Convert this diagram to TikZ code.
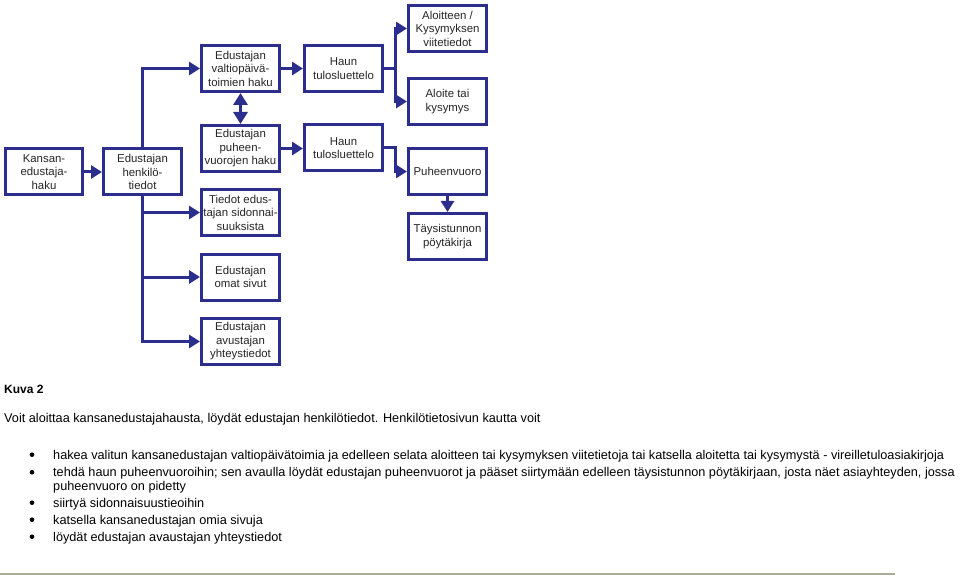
\documentclass[tikz,border=0pt]{standalone}
\usepackage{fontspec}
\setmainfont{Liberation Sans}
\usepackage{xcolor}
\usetikzlibrary{arrows.meta}

\definecolor{boxblue}{RGB}{43,46,140}
\definecolor{rulegray}{RGB}{170,172,155}

\tikzset{
  pagebox/.style={draw=boxblue,line width=3pt,fill=white,minimum width=78pt,minimum height=46pt,
    align=center,inner sep=1pt,text=black!85,font=\fontsize{11.4}{13.5}\selectfont},
  link/.style={draw=boxblue,line width=3pt,-{Triangle[length=11pt,width=13pt]}},
  bodytext/.style={anchor=base west,inner sep=0pt,font=\fontsize{12.7}{15}\selectfont}
}

\begin{document}
\begin{tikzpicture}[x=1pt,y=-1pt]
	\useasboundingbox (0,0) rectangle (960,577);

	% boxes
	\node[pagebox,minimum width=77pt] (kansan) at (44,172) {Kansan-\\edustaja-\\haku};
	\node[pagebox] (henk) at (142.5,172) {Edustajan\\henkilö-\\tiedot};
	\node[pagebox] (valtio) at (240.5,68.5) {Edustajan\\valtiopäivä-\\toimien haku};
	\node[pagebox] (puheen) at (240.5,148.5) {Edustajan\\puheen-\\vuorojen haku};
	\node[pagebox] (sidonn) at (240.5,212.5) {Tiedot edus-\\tajan sidonnai-\\suuksista};
	\node[pagebox] (omat) at (240.5,277) {Edustajan\\omat sivut};
	\node[pagebox] (avust) at (240.5,341.5) {Edustajan\\avustajan\\yhteystiedot};
	\node[pagebox] (haku1) at (343.5,68.5) {Haun\\tulosluettelo};
	\node[pagebox] (haku2) at (343.5,148) {Haun\\tulosluettelo};
	\node[pagebox] (viite) at (447.5,28.5) {Aloitteen /\\Kysymyksen\\viitetiedot};
	\node[pagebox] (aloite) at (447.5,101.5) {Aloite tai\\kysymys};
	\node[pagebox] (puheenvuoro) at (447.5,171.5) {Puheenvuoro};
	\node[pagebox] (taysi) at (447.5,236.5) {Täysistunnon\\pöytäkirja};

	% connectors
	\coordinate (branch1) at (395,68.5);
	\coordinate (branch2) at (395,148);
	\draw[link] (kansan) -- (henk);
	\draw[link] (henk.north) |- (valtio.west);
	\draw[link] (henk.south) |- (sidonn.west);
	\draw[link] (henk.south) |- (omat.west);
	\draw[link] (henk.south) |- (avust.west);
	\draw[link,{Triangle[length=12pt,width=14pt]}-{Triangle[length=12pt,width=14pt]}] (valtio) -- (puheen);
	\draw[link] (valtio) -- (haku1);
	\draw[link] (puheen.east) -- (puheen.east -| haku2.west);
	\draw[link] (haku1.east) -- (branch1) |- (viite.west);
	\draw[link] (branch1) |- (aloite.west);
	\draw[link] (haku2.east) -- (branch2) |- (puheenvuoro.west);
	\draw[link] (puheenvuoro) -- (taysi);

	% text below
	\node[bodytext,font=\fontsize{12}{14}\selectfont\bfseries] (kuva) at (4,393) {Kuva 2};
	\node[bodytext] (intro) at (4,422) {Voit aloittaa kansanedustajahausta, löydät edustajan henkilötiedot. Henkilötietosivun kautta voit};
	\foreach \y/\name/\txt in {459/itemA/{hakea valitun kansanedustajan valtiopäivätoimia ja edelleen selata aloitteen tai kysymyksen viitetietoja tai katsella aloitetta tai kysymystä - vireilletuloasiakirjoja},
		476.5/itemB/{tehdä haun puheenvuoroihin; sen avaulla löydät edustajan puheenvuorot ja pääset siirtymään edelleen täysistunnon pöytäkirjaan, josta näet asiayhteyden, jossa},
		507/itemC/{siirtyä sidonnaisuustieoihin},
		524/itemD/{katsella kansanedustajan omia sivuja},
		541/itemE/{löydät edustajan avaustajan yhteystiedot}}
	{
		\fill (32,\y-4.3) circle (2.3pt);
		\node[bodytext] (\name) at (53,\y) {\txt};
	}
	\node[bodytext] (itemB2) at (53,490) {puheenvuoro on pidetty};

	\draw[rulegray,line width=2pt] (0,574) -- (895,574);
\end{tikzpicture}
\end{document}
